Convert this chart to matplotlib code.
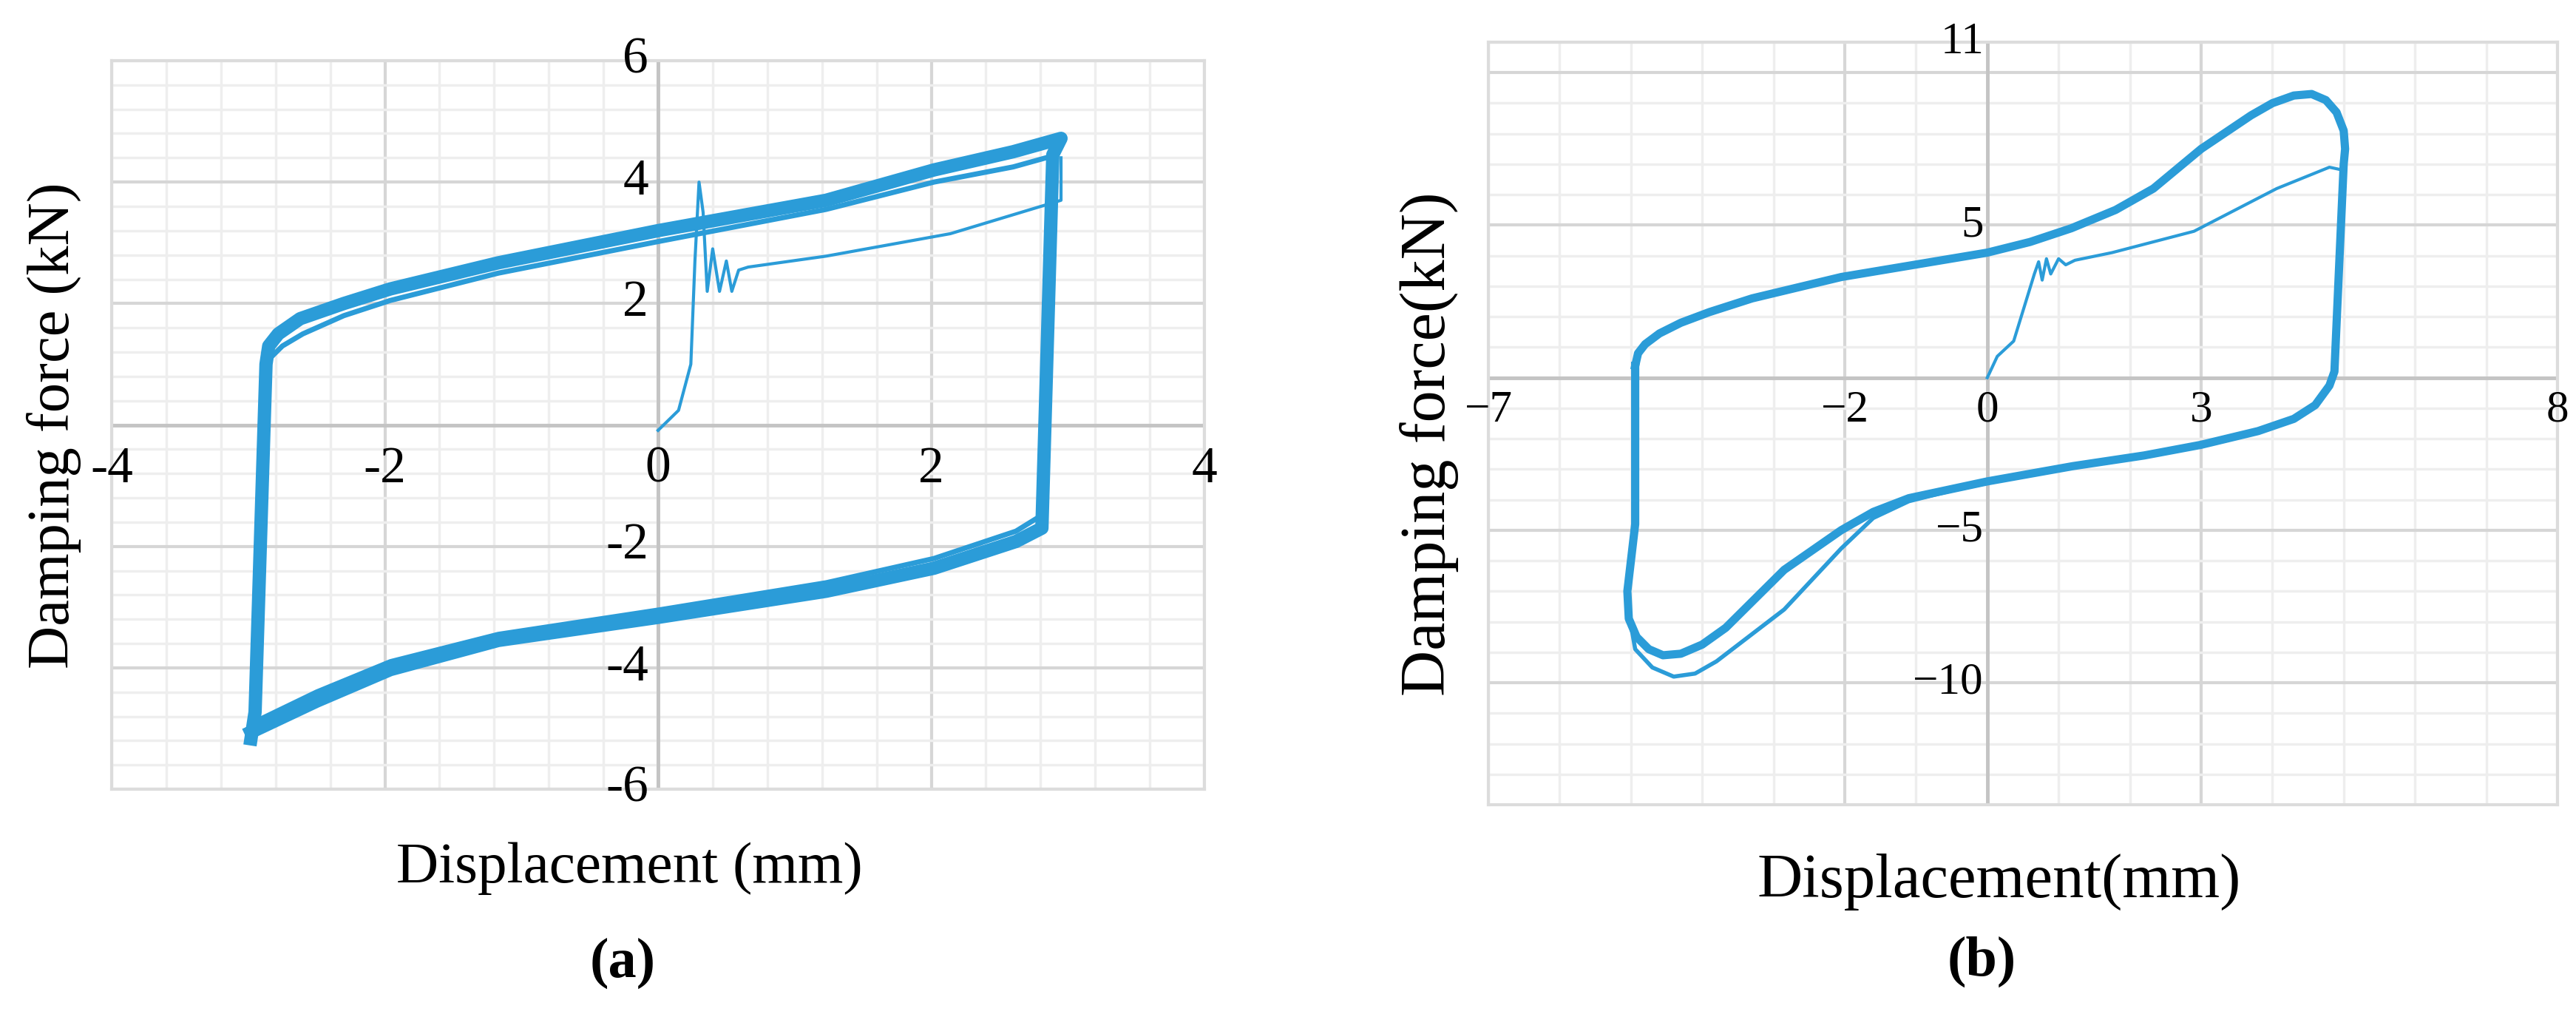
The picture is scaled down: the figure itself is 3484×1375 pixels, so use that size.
import numpy as np
import matplotlib.pyplot as plt
from matplotlib.ticker import MultipleLocator

plt.rcParams['font.family'] = ['Liberation Serif', 'DejaVu Serif']

BLUE = '#2b9cd8'

# ---- panel (a): values (mm, kN) ----
a_loop_x = [-2.98, -2.95, -2.87, -2.85, -2.78, -2.62, -2.3, -1.96, -1.17, 0.0, 1.23, 2.02, 2.6, 2.95,
            2.89, 2.81, 2.62, 2.02, 1.23, 0.0, -1.17, -1.96, -2.5, -2.98]
a_loop_y = [-5.17, -4.73, 1.0, 1.3, 1.5, 1.75, 2.0, 2.24, 2.67, 3.2, 3.7, 4.2, 4.5, 4.72,
            4.45, -1.7, -1.92, -2.36, -2.74, -3.17, -3.55, -4.03, -4.55, -5.06]
# a lower, slightly different cycle
a_loop2_x = [-2.96, -2.88, -2.84, -2.75, -2.6, -2.3, -1.96, -1.17, 0.0, 1.23, 2.02, 2.6, 2.92,
             2.88, 2.80, 2.62, 2.02, 1.23, 0.0, -1.17, -1.96, -2.5, -2.96]
a_loop2_y = [-4.9, 0.9, 1.1, 1.3, 1.5, 1.8, 2.05, 2.5, 3.02, 3.55, 4.0, 4.25, 4.45,
             4.3, -1.5, -1.75, -2.2, -2.6, -3.05, -3.45, -3.9, -4.4, -4.9]
a_init_x = [0.0, 0.15, 0.24, 0.27, 0.30, 0.33, 0.36, 0.40, 0.45, 0.50, 0.54, 0.59,
            0.66, 1.23, 2.14, 2.95, 2.95]
a_init_y = [-0.09, 0.24, 1.0, 2.7, 4.0, 3.5, 2.2, 2.9, 2.2, 2.7, 2.2, 2.55,
            2.6, 2.78, 3.15, 3.7, 4.4]

# ---- panel (b) ----
b_loop_x = [-4.94, -4.9, -4.8, -4.6, -4.3, -3.9, -3.3, -2.05, 0.0, 0.6, 1.18, 1.8, 2.33, 3.0,
            3.7, 4.0, 4.3, 4.55, 4.75, 4.9, 5.0, 5.02, 5.0,
            4.87, 4.8, 4.6, 4.3, 3.8, 3.0, 2.2, 1.2, 0.0, -0.5, -1.1, -1.6, -2.05, -2.85,
            -3.67, -4.0, -4.3, -4.55, -4.75, -4.92, -5.03, -5.05, -5.0, -4.94, -4.94]
b_loop_y = [0.39, 0.8, 1.1, 1.45, 1.8, 2.15, 2.6, 3.3, 4.1, 4.45, 4.9, 5.5, 6.2, 7.5,
            8.6, 9.0, 9.25, 9.3, 9.1, 8.7, 8.1, 7.5, 7.0,
            0.2, -0.26, -0.9, -1.35, -1.75, -2.2, -2.55, -2.9, -3.4, -3.65, -3.95, -4.4, -5.0, -6.3,
            -8.2, -8.75, -9.05, -9.1, -8.9, -8.5, -7.9, -7.0, -6.0, -4.8, 0.39]
b_loop2_x = [-5.05, -5.0, -4.94, -4.7, -4.4, -4.1, -3.8, -2.85, -2.05, -1.6, -1.1, -0.5, 0.0]
b_loop2_y = [-6.9, -8.1, -8.9, -9.5, -9.8, -9.7, -9.3, -7.6, -5.6, -4.6, -4.05, -3.7, -3.45]
b_init_x = [0.0, 0.14, 0.37, 0.66, 0.72, 0.77, 0.83, 0.89, 1.0, 1.1, 1.23, 1.75, 2.9, 4.06,
            4.8, 5.0, 5.0]
b_init_y = [0.0, 0.7, 1.2, 3.4, 3.8, 3.2, 3.9, 3.4, 3.9, 3.7, 3.85, 4.1, 4.8, 6.2,
            6.9, 6.8, 7.3]

W, H = 3484, 1375
fig = plt.figure(figsize=(W / 100, H / 100), dpi=100)


def frame(ax, xlim, ylim, xmaj, xmin, ymaj, ymin):
    ax.set_xlim(*xlim)
    ax.set_ylim(*ylim)
    ax.xaxis.set_major_locator(MultipleLocator(xmaj))
    ax.xaxis.set_minor_locator(MultipleLocator(xmin))
    ax.yaxis.set_major_locator(MultipleLocator(ymaj))
    ax.yaxis.set_minor_locator(MultipleLocator(ymin))
    ax.grid(which='minor', color='#eeeeee', lw=2.5)
    ax.grid(which='major', color='#d6d6d6', lw=3)
    ax.set_axisbelow(True)
    ax.tick_params(which='both', length=0, labelbottom=False, labelleft=False)
    for s in ax.spines.values():
        s.set_color('#dcdcdc')
        s.set_linewidth(3)
    ax.axhline(0, color='#c4c4c4', lw=3.5, zorder=1)
    ax.axvline(0, color='#c4c4c4', lw=3.5, zorder=1)


# (a)
ax1 = fig.add_axes([151 / W, 1 - 1067 / H, (1629 - 151) / W, (1067 - 82) / H])
frame(ax1, (-4, 4), (-6, 6), 2, 0.4, 2, 0.4)
ax1.plot(a_loop_x, a_loop_y, color=BLUE, lw=13, solid_joinstyle='round', zorder=3)
ax1.plot(a_loop2_x, a_loop2_y, color=BLUE, lw=5, solid_joinstyle='round', zorder=3)
ax1.plot(a_init_x, a_init_y, color=BLUE, lw=3, zorder=3)
for v in [-4, -2, 0, 2, 4]:
    ax1.text(v, -0.35, str(v), ha='center', va='top', fontsize=50, clip_on=False)
for v in [6, 4, 2, -2, -4, -6]:
    ax1.text(-0.07, v, str(v), ha='right', va='center', fontsize=50, clip_on=False)
fig.text(73 / W, 1 - 575 / H, 'Damping force (kN)', rotation=90, ha='center', va='center', fontsize=58)
fig.text(851 / W, 1 - 1174 / H, 'Displacement (mm)', ha='center', va='center', fontsize=57)
fig.text(842 / W, 1 - 1302 / H, '(a)', ha='center', va='center', fontsize=55, fontweight='bold')

# (b)
ax2 = fig.add_axes([2013 / W, 1 - 1088 / H, (3459 - 2013) / W, (1088 - 57) / H])
frame(ax2, (-7, 8), (-14, 11), 5, 1, 5, 1)
ax2.xaxis.set_major_locator(plt.FixedLocator([-7, -2, 3, 8]))
ax2.plot(b_loop_x, b_loop_y, color=BLUE, lw=8, solid_joinstyle='round', zorder=3)
ax2.plot(b_loop2_x, b_loop2_y, color=BLUE, lw=4, solid_joinstyle='round', zorder=3)
ax2.plot(b_init_x, b_init_y, color=BLUE, lw=3, zorder=3)
for v in [-7, -2, 0, 3, 8]:
    ax2.text(v, -0.4, str(v).replace('-', '\u2212'), ha='center', va='top', fontsize=44, clip_on=False)
for v in [11, 5, -5, -10]:
    ax2.text(-0.05, v, str(v).replace('-', '\u2212'), ha='right', va='center', fontsize=44, clip_on=False)
fig.text(1933 / W, 1 - 600 / H, 'Damping force(kN)', rotation=90, ha='center', va='center', fontsize=62)
fig.text(2704 / W, 1 - 1192 / H, 'Displacement(mm)', ha='center', va='center', fontsize=61)
fig.text(2680 / W, 1 - 1300 / H, '(b)', ha='center', va='center', fontsize=55, fontweight='bold')

fig.savefig('out.png', dpi=100)
